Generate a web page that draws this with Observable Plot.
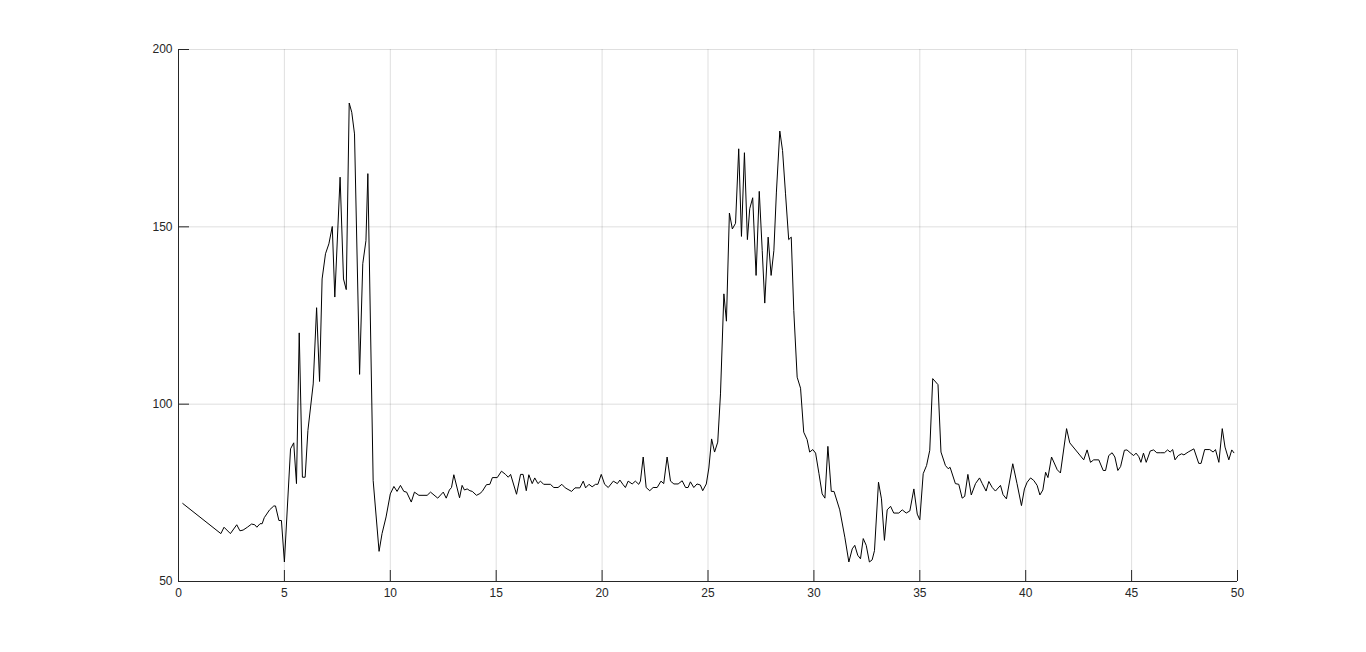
<!DOCTYPE html>
<html>
<head>
<meta charset="utf-8">
<script src="https://cdn.jsdelivr.net/npm/d3@7"></script>
<script src="https://cdn.jsdelivr.net/npm/@observablehq/plot@0.6"></script>
<style>
  html, body { margin: 0; padding: 0; background: #fff; }
  #chart svg { display: block; }
</style>
</head>
<body>
<div id="chart"></div>
<script>
const t = [0.2,2.0,2.15,2.45,2.75,2.9,3.05,3.25,3.45,3.6,3.7,3.85,3.95,4.05,4.3,4.5,4.58,4.74,4.86,5.0,
5.29,5.44,5.57,5.70,5.85,5.98,6.11,6.36,6.52,6.66,6.78,6.94,7.1,7.26,7.38,7.63,7.79,7.92,8.06,8.18,
8.31,8.55,8.70,8.85,8.94,9.19,9.47,9.61,9.8,10.0,10.17,10.32,10.48,10.64,10.77,10.99,11.14,11.35,11.74,11.9,
12.24,12.5,12.64,12.79,12.89,13.0,13.27,13.39,13.5,13.63,13.76,13.87,14.07,14.23,14.34,14.54,14.7,14.82,15.05,15.25,
15.44,15.57,15.68,15.96,16.15,16.27,16.42,16.54,16.7,16.82,16.97,17.09,17.24,17.56,17.72,17.92,18.1,18.26,18.56,18.72,
18.95,19.11,19.22,19.38,19.53,19.69,19.8,19.96,20.12,20.29,20.53,20.72,20.84,20.98,21.1,21.23,21.42,21.57,21.73,21.81,
21.94,22.08,22.25,22.41,22.6,22.78,22.91,23.07,23.23,23.39,23.59,23.78,23.94,24.06,24.17,24.33,24.48,24.64,24.75,24.92,
25.04,25.17,25.31,25.46,25.59,25.75,25.87,26.01,26.15,26.3,26.45,26.58,26.72,26.86,26.97,27.11,27.27,27.42,27.56,27.68,
27.84,27.98,28.11,28.23,28.39,28.52,28.66,28.81,28.93,29.05,29.21,29.37,29.52,29.68,29.8,29.95,30.08,30.24,30.39,30.52,
30.66,30.82,30.95,31.22,31.46,31.65,31.81,31.93,32.07,32.2,32.33,32.47,32.62,32.75,32.86,33.05,33.19,33.33,33.46,33.62,
33.77,34.01,34.17,34.36,34.53,34.72,34.88,35.0,35.16,35.32,35.47,35.61,35.86,36.0,36.21,36.34,36.43,36.68,36.84,37.0,
37.12,37.27,37.43,37.63,37.82,37.95,38.13,38.26,38.42,38.57,38.81,38.93,39.09,39.39,39.59,39.8,39.94,40.07,40.23,40.38,
40.54,40.67,40.81,40.94,41.05,41.22,41.49,41.64,41.93,42.08,42.74,42.9,43.06,43.21,43.45,43.66,43.77,43.92,44.08,44.21,
44.35,44.48,44.66,44.78,44.97,45.1,45.21,45.34,45.44,45.56,45.69,45.88,46.04,46.19,46.35,46.55,46.7,46.82,46.94,47.05,
47.2,47.36,47.47,47.67,47.94,48.17,48.28,48.45,48.69,48.85,48.96,49.12,49.28,49.41,49.59,49.73,49.83];

const v = [72,63.5,65.3,63.5,66,64.3,64.5,65.3,66.2,66,65.3,66.3,66.3,68,70.2,71.3,71.3,67.2,67.2,55.5,
87.4,89.1,77.6,120.1,79.4,79.4,92.6,105.7,127.2,106.4,135.3,142.4,145.2,150.1,130.2,164,135.3,132.3,184.9,182.3,
176.2,108.4,139.6,146.1,165,78.5,58.5,63.5,68.2,74.7,76.8,75.4,77.1,75.4,75.2,72.4,75.2,74.3,74.3,75.2,
73.5,75.2,73.5,75.8,76.5,80.1,73.6,77.1,75.8,76.1,75.6,75.4,74.3,74.8,75.4,77.3,77.4,79.3,79.3,81.1,
80.2,79.4,80.2,74.6,80.2,80.2,75.6,80.1,77.6,79.2,77.6,78.3,77.4,77.4,76.5,76.5,77.4,76.4,75.4,76.4,
76.4,78.3,76.4,77.4,76.7,77.4,77.4,80.2,77.4,76.5,78.3,77.6,78.6,77.4,76.5,78.3,77.5,78.3,77.4,78.3,
85.1,76.5,75.6,76.5,76.5,78.3,77.6,85.1,78.3,77.5,77.5,78.4,76.5,76.5,78.1,76.5,77.5,77.2,75.6,77.5,
82,90.2,86.5,89.3,102.9,131.1,123.4,153.9,149.4,151,172,147.3,170.9,146.4,155.1,158.2,136.3,160,143.3,128.5,
147.1,136.3,143.3,159.8,177,171.5,159.3,146.4,147.1,126.4,107.6,104.5,92.1,90,86.5,87.2,86.2,80.4,74.7,73.5,
88.1,75.4,75.4,70.2,62.5,55.5,59.2,60.2,57.4,56.4,62.1,60.2,55.5,56.1,58.7,78,73.3,61.6,70.2,71.2,
69.3,69.3,70.2,69.3,69.9,76.1,69,67.4,80.4,82.7,87,107.2,105.5,86.5,82.7,81.8,82.2,77.6,77.4,73.5,
74,80.2,74.4,77.6,79.2,77.6,75.5,78.2,76.5,75.5,77.1,74.5,73.3,83.2,77.6,71.4,76.1,78,79.2,78.5,
77.1,74.4,75.8,80.8,79.3,85.1,81.5,80.6,93.1,89.1,84.3,87.1,83.6,84.3,84.3,81.3,81.3,85.5,86.3,85.1,
81.3,82.4,87,87.1,86.1,85.5,86.2,85.2,83.6,86.2,83.6,86.8,87.1,86.3,86.3,86.3,87.1,86.5,87.2,84.3,
85.5,86,85.7,86.5,87.4,83.3,83.3,87.2,87.2,86.5,87.2,83.6,93.1,87.9,84.3,87.1,86.3];

const xTicks = [0, 5, 10, 15, 20, 25, 30, 35, 40, 45, 50];
const yTicks = [50, 100, 150, 200];

const data = t.map((x, i) => ({x, y: v[i]}));

const W = 1366, H = 652;
const mL = 178, mR = 129, mT = 49, mB = 71;
const plotW = W - mL - mR, plotH = H - mT - mB;
const tickLen = 11;

const chart = Plot.plot({
  width: W,
  height: H,
  marginLeft: mL,
  marginRight: mR,
  marginTop: mT,
  marginBottom: mB,
  style: {fontFamily: "'Liberation Sans', Arial, Helvetica, sans-serif", fontSize: "12px", color: "#262626", background: "#fff"},
  x: {domain: [0, 50]},
  y: {domain: [50, 200]},
  marks: [
    Plot.ruleX(xTicks, {stroke: "#262626", strokeOpacity: 0.15}),
    Plot.ruleY(yTicks, {stroke: "#262626", strokeOpacity: 0.15}),
    Plot.line(data, {x: "x", y: "y", stroke: "#000", strokeWidth: 1}),
    Plot.ruleX([xTicks[0]], {stroke: "#262626", strokeWidth: 1}),
    Plot.ruleY([yTicks[0]], {stroke: "#262626", strokeWidth: 1}),
    Plot.ruleX(xTicks, {stroke: "#262626", insetTop: plotH - tickLen}),
    Plot.ruleY(yTicks, {stroke: "#262626", insetRight: plotW - tickLen}),
    Plot.axisX({ticks: xTicks, tickSize: 0, tickPadding: 7, label: null, fill: "#262626", fontSize: 12}),
    Plot.axisY({ticks: yTicks, tickSize: 0, tickPadding: 6, label: null, fill: "#262626", fontSize: 12})
  ]
});
document.getElementById("chart").appendChild(chart);
</script>
</body>
</html>
